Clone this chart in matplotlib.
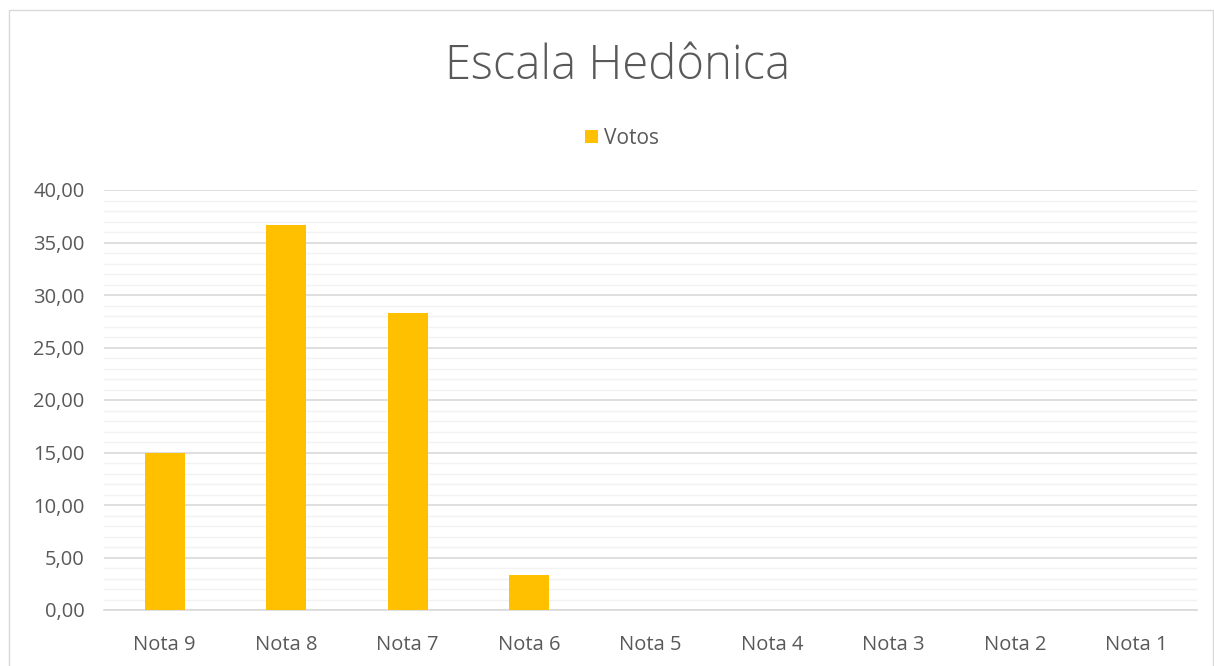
import numpy as np
import matplotlib.pyplot as plt
from matplotlib.patches import Rectangle
from matplotlib.ticker import MultipleLocator, FuncFormatter

categorias = ['Nota 9', 'Nota 8', 'Nota 7', 'Nota 6', 'Nota 5',
              'Nota 4', 'Nota 3', 'Nota 2', 'Nota 1']
votos = [15.00, 36.67, 28.33, 3.33, 0, 0, 0, 0, 0]

plt.rcParams['font.family'] = ['Open Sans', 'DejaVu Sans']
cinza = '#595959'

W, H = 1214, 666
fig = plt.figure(figsize=(W / 100, H / 100), dpi=100)
ax = fig.add_axes([104 / W, (H - 610) / H, (1197 - 104) / W, (610 - 190) / H])

x = np.arange(len(categorias))
ax.bar(x, votos, width=0.33, color='#ffc000', label='Votos', zorder=3)

ax.set_xlim(-0.5, len(categorias) - 0.5)
ax.set_ylim(0, 40)
ax.yaxis.set_major_locator(MultipleLocator(5))
ax.yaxis.set_minor_locator(MultipleLocator(1))
ax.yaxis.set_major_formatter(FuncFormatter(lambda v, p: f'{v:.2f}'.replace('.', ',')))
ax.grid(axis='y', which='major', color='#d9d9d9', linewidth=1.2, zorder=0)
ax.grid(axis='y', which='minor', color='#f2f2f2', linewidth=1.0, zorder=0)

ax.set_xticks(x)
ax.set_xticklabels(categorias)
ax.tick_params(axis='both', which='both', length=0, labelsize=14.5, colors=cinza)
ax.tick_params(axis='x', pad=18)
ax.tick_params(axis='y', pad=14)
for s in ['top', 'right', 'left']:
    ax.spines[s].set_visible(False)
ax.spines['bottom'].set_color('#d9d9d9')
ax.spines['bottom'].set_linewidth(1.2)

fig.text(618 / W, 1 - 67 / H, 'Escala Hedônica', ha='center', va='center',
         fontsize=34, color=cinza, fontweight='light')
fig.legend(loc='center', bbox_to_anchor=(622 / W, 1 - 138 / H), frameon=False,
           fontsize=15, labelcolor=cinza, handlelength=0.6, handleheight=0.6,
           handletextpad=0.3)

fig.patches.append(Rectangle((9 / W, -0.1), (1213 - 9) / W, 1.1 - 10 / H,
                             transform=fig.transFigure, fill=False,
                             edgecolor='#d9d9d9', linewidth=1))

fig.savefig('out.png', dpi=100)
